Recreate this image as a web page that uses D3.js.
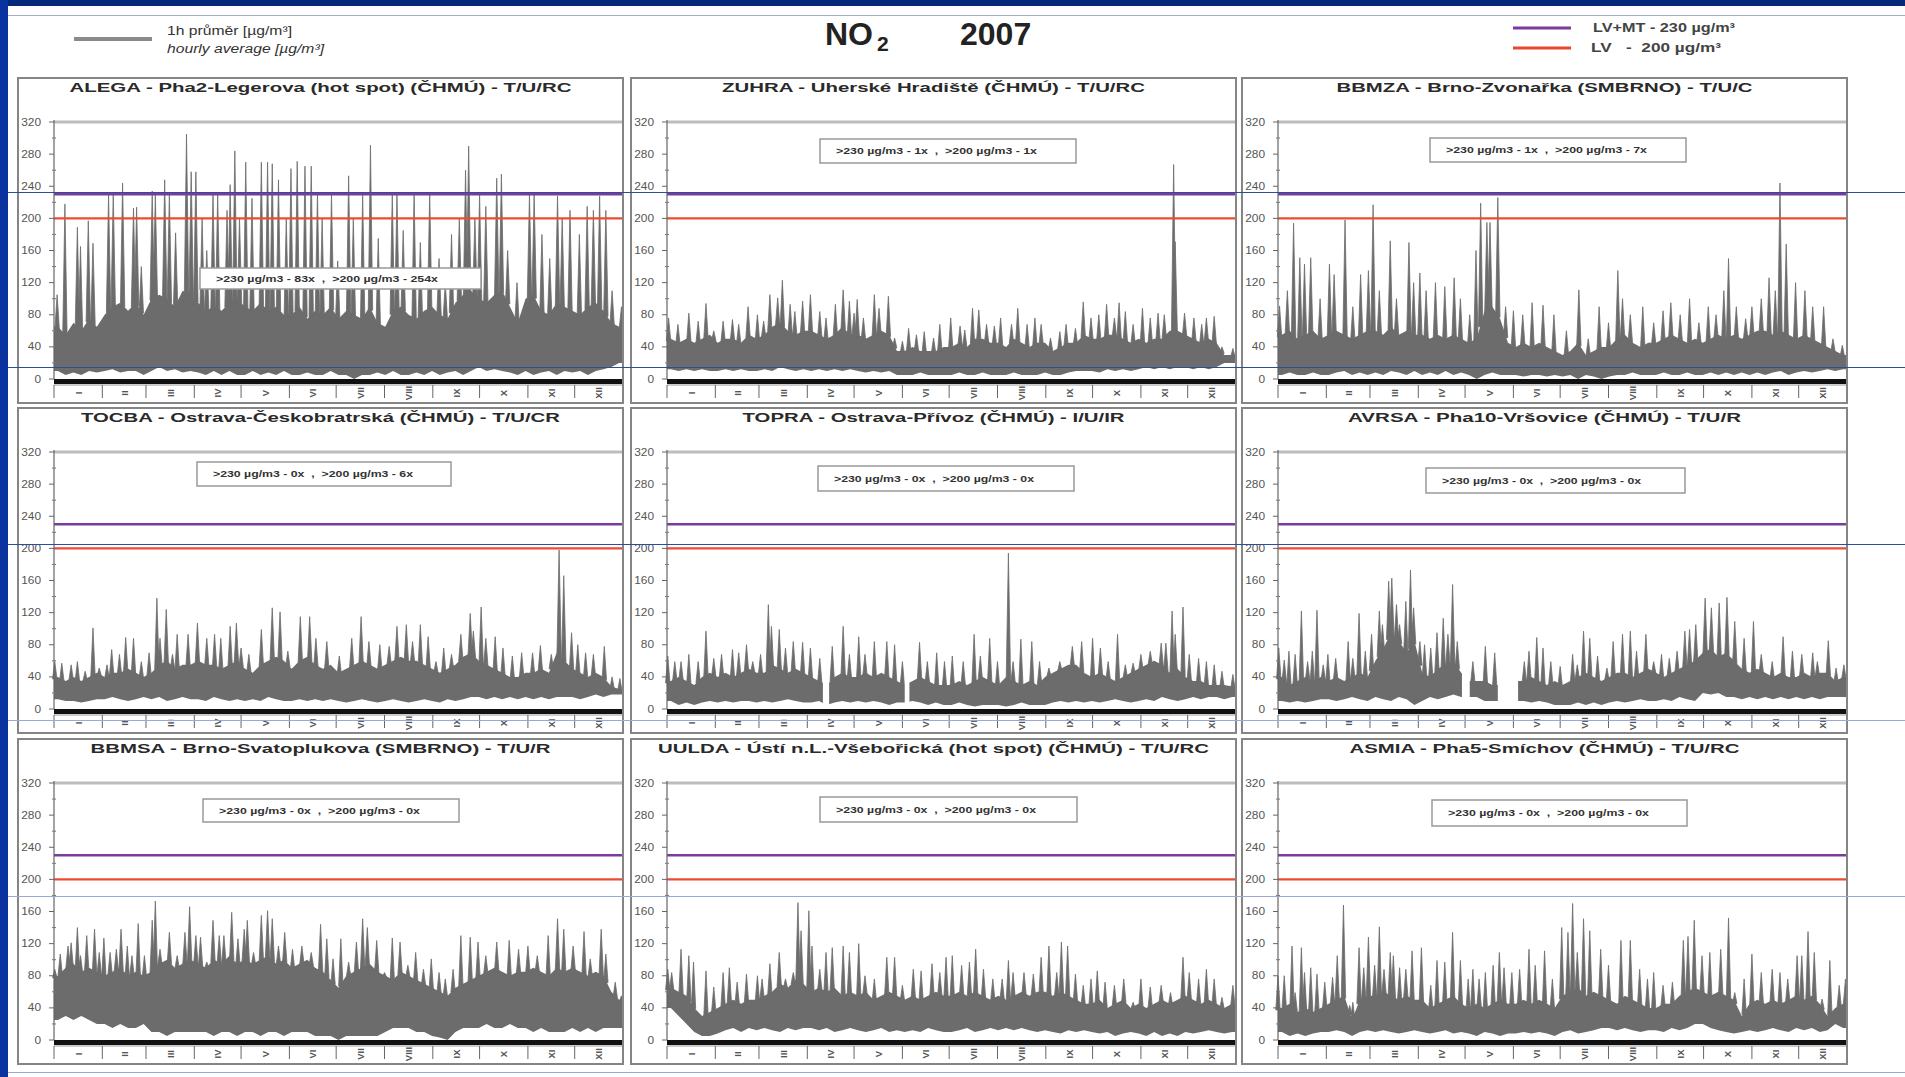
<!DOCTYPE html>
<html><head><meta charset="utf-8">
<script src="https://cdn.jsdelivr.net/npm/d3@7"></script>
<style>body{margin:0;background:#fff}svg{display:block}</style>
</head><body>
<svg id="c" width="1905" height="1077"></svg>
<script>
// ---------------- DATA ----------------
const monthStarts = [0,31,59,90,120,151,181,212,243,273,304,334,365];
const monthLabels = ["I","II","III","IV","V","VI","VII","VIII","IX","X","XI","XII"];
const yTicks = [0,40,80,120,160,200,240,280,320];
const limitLV = 200, limitLVMT = 230;

const stationTitles = [
  "ALEGA - Pha2-Legerova (hot spot) (ČHMÚ) - T/U/RC",
  "ZUHRA - Uherské Hradiště (ČHMÚ) - T/U/RC",
  "BBMZA - Brno-Zvonařka (SMBRNO) - T/U/C",
  "TOCBA - Ostrava-Českobratrská (ČHMÚ) - T/U/CR",
  "TOPRA - Ostrava-Přívoz (ČHMÚ) - I/U/IR",
  "AVRSA - Pha10-Vršovice (ČHMÚ) - T/U/R",
  "BBMSA - Brno-Svatoplukova (SMBRNO) - T/U/R",
  "UULDA - Ústí n.L.-Všebořická (hot spot) (ČHMÚ) - T/U/RC",
  "ASMIA - Pha5-Smíchov (ČHMÚ) - T/U/RC"
];
const over230 = [83,1,1,0,0,0,0,0,0];
const over200 = [254,1,7,6,0,0,0,0,0];

// Peaks: day of year and hourly value (µg/m3)
const alegaPeakDay = [2,7,15,17,22,25,35,38,44,51,53,56,63,65,71,74,78,85,88,91,95,98,102,105,111,113,116,119,123,127,133,137,140,144,149,152,156,161,165,169,172,178,182,189,192,198,203,208,217,220,224,231,235,241,247,251,255,260,264,266,270,273,277,284,287,291,297,305,308,313,318,323,326,331,337,342,346,350,354,358,364];
const alegaPeakVal = [105,218,189,165,197,169,230,231,244,213,214,140,234,230,248,230,182,305,258,258,200,160,231,231,210,242,284,200,270,225,270,270,268,248,200,262,271,265,265,232,200,231,147,253,200,230,291,175,232,230,185,232,170,232,150,120,180,200,260,290,200,230,215,250,255,160,120,230,230,180,150,228,200,210,180,215,210,228,210,110,90];
const zuhraPeakDay = [1,7,14,20,25,30,36,42,46,52,58,62,66,71,74,79,82,87,92,98,102,108,113,117,120,122,126,133,136,142,146,151,155,160,165,171,175,182,188,191,196,200,205,210,214,221,225,231,236,240,246,252,256,262,267,272,277,282,287,290,294,299,305,310,315,319,325,326,332,338,343,346,351,356,363];
const zuhraPeakVal = [76,68,82,72,94,60,72,74,68,90,80,72,105,101,123,93,84,97,105,84,76,93,111,97,82,99,76,105,88,103,51,47,63,55,59,51,68,76,66,61,88,86,68,66,76,68,88,68,76,68,51,59,68,63,96,76,80,93,76,95,84,68,88,76,82,80,267,171,82,76,68,76,78,40,38];
const bbmzaPeakDay = [1,6,10,14,17,21,27,33,36,43,48,53,58,61,65,72,76,84,87,91,95,101,107,113,117,123,127,130,134,136,141,146,151,157,163,170,177,185,193,199,206,212,218,221,226,234,241,247,252,258,264,270,276,281,286,289,294,300,304,310,315,319,322,326,332,338,343,350,356,362];
const bbmzaPeakVal = [91,110,194,151,143,151,100,143,130,198,90,130,135,217,110,172,100,170,120,132,110,120,115,126,100,80,160,219,195,195,226,90,85,80,95,92,80,60,111,50,90,70,135,100,80,90,70,85,95,80,100,70,90,80,110,150,90,75,90,100,126,110,244,168,120,110,90,90,50,42];
const tocbaPeakDay = [0.5,5,11,15,20,25,29,34,37,42,46,51,56,61,66,68,72,76,79,86,92,98,103,107,113,117,120,125,133,140,145,150,158,164,168,175,183,191,197,202,209,215,220,226,230,235,240,245,250,255,261,267,269,274,277,283,288,294,300,307,312,319,324,327,332,336,341,346,353,358,363];
const tocbaPeakVal = [59,57,55,59,47,101,51,55,74,68,89,88,59,70,138,88,124,68,93,93,107,88,93,88,103,107,76,68,99,126,121,72,115,115,88,84,66,88,115,84,80,78,103,105,84,105,90,59,76,68,93,119,97,127,88,90,76,66,70,70,79,68,198,166,95,80,70,68,78,40,38];
const topraPeakDay = [0.5,5,9,14,20,25,30,35,42,46,51,55,60,65,67,72,76,81,87,92,98,106,113,117,123,127,133,141,146,151,162,167,173,178,183,190,197,201,207,212,219,222,227,234,239,245,252,260,266,273,278,283,289,294,299,304,310,317,320,324,326,331,335,341,346,351,356,363];
const topraPeakVal = [66,59,59,68,59,97,63,68,74,70,80,59,68,130,103,99,76,84,83,76,63,78,103,68,90,68,84,84,80,59,83,59,70,59,66,59,93,66,88,59,194,59,87,84,59,51,59,78,84,88,76,59,93,55,57,68,72,82,82,122,93,127,68,63,59,55,47,43];
const avrsaPeakDay = [0.5,4,7,11,15,19,22,25,29,32,37,45,48,52,56,60,65,67,71,73,76,78,82,85,87,91,94,98,102,106,109,112,115,125,133,139,158,161,166,170,175,181,189,192,196,200,205,211,215,221,226,230,236,241,246,251,256,261,264,268,274,278,283,288,293,299,305,310,317,324,330,336,343,346,353,358,363];
const avrsaPeakVal = [76,61,72,68,122,59,72,123,55,68,63,84,63,119,72,93,122,105,159,163,130,105,134,173,126,84,80,76,95,113,93,155,84,59,78,70,59,72,89,76,59,53,68,55,97,88,66,51,84,93,97,72,93,59,68,63,72,97,99,105,138,126,132,139,109,88,109,68,59,90,72,68,70,59,85,51,55];
const bbmsaPeakDay = [0.5,4,9,11,15,17,21,26,29,32,36,40,43,47,50,54,58,63,65,68,74,79,84,87,91,94,98,102,106,109,114,118,122,124,128,133,137,140,144,148,153,159,165,171,175,179,184,189,194,198,201,207,212,217,222,227,232,237,242,247,251,256,261,267,272,277,284,292,298,304,310,317,323,327,333,340,344,351,354,360,364];
const bbmsaPeakVal = [88,107,117,121,140,105,130,138,109,127,109,113,138,117,105,145,105,149,173,113,134,105,134,166,130,128,97,149,130,130,159,126,138,149,109,155,161,151,117,134,113,117,109,144,126,101,126,97,122,151,140,124,84,127,122,93,109,88,101,84,76,88,130,128,122,105,122,124,113,117,105,130,151,138,117,135,101,138,107,72,55];
const uuldaPeakDay = [0.5,3,9,14,17,25,30,36,40,45,51,58,61,66,72,76,81,84,86,91,93,98,102,106,113,117,123,127,133,141,146,151,158,163,170,175,179,183,189,194,198,203,209,215,219,222,229,235,240,245,250,253,257,262,267,272,276,281,287,293,299,304,310,317,323,331,335,341,346,351,356,363];
const uuldaPeakVal = [88,84,113,105,97,86,66,84,90,72,82,80,76,95,109,76,84,171,136,161,117,88,109,115,117,109,120,80,76,103,103,68,88,86,95,84,103,105,93,97,113,88,76,76,99,84,84,82,103,117,84,122,117,82,68,76,86,72,68,76,47,76,66,68,59,103,84,76,88,76,53,68];
const asmiaPeakDay = [0,4,9,11,15,17,21,25,30,35,38,42,46,48,52,55,58,62,65,68,72,74,78,82,86,92,98,102,107,112,117,122,125,129,133,138,142,145,150,155,161,165,171,176,182,186,189,192,196,200,207,212,220,226,232,237,241,247,253,260,263,267,272,277,284,289,293,299,304,310,317,322,327,333,336,340,344,349,354,360,364];
const asmiaPeakVal = [80,80,117,59,115,84,90,82,72,78,105,168,43,47,115,90,128,93,141,88,109,105,90,88,111,115,68,99,97,134,99,76,88,76,84,93,109,90,84,88,113,93,111,76,140,134,170,109,151,136,113,93,124,124,88,76,84,68,72,124,129,149,105,109,113,152,59,76,107,84,88,84,76,105,105,135,109,51,99,68,76];

// Dense band of hourly values per 5-day bin (73 bins): top and bottom
const alegaMid = [65,55,70,60,75,65, 80,90,95,85,95,80, 100,105,100,90,110,105, 95,85,90,85,95,100, 90,85,95,85,90,80, 80,90,75,85,80,90, 75,85,80,75,90,70, 65,85,90,80,75,85, 90,80,75,95,105,110, 100,95,105,110,90,70, 100,105,85,80,95,90, 85,80,90,95,85,70,65];
const alegaLo = [10,5,8,5,10,8, 10,12,8,10,10,5, 10,15,10,12,8,10, 8,5,10,5,10,5, 5,10,5,8,5,10, 5,5,8,5,5,10, 5,5,0,5,5,8, 5,10,5,5,8,5, 10,5,8,10,5,10, 15,10,12,10,8,5, 10,5,8,10,5,10, 8,10,5,10,12,15,20];
const zuhraMid = [50,45,50,45,50,55, 45,50,50,45,55,50, 55,65,70,60,55,60, 60,55,50,55,65,55, 55,50,55,60,55,35, 35,40,35,35,35,40, 40,45,40,50,50,45, 45,40,50,45,40,45, 45,35,40,45,45,55, 50,50,55,55,50,45, 50,45,50,50,60,60, 55,50,45,50,45,30,30];
const zuhraLo = [12,10,12,10,12,10, 10,12,10,12,10,10, 12,10,15,12,10,12, 10,12,10,12,10,12, 10,8,10,8,10,5, 5,5,8,5,5,5, 5,8,5,5,8,5, 5,5,8,5,5,5, 8,5,5,8,10,10, 10,8,12,10,12,10, 12,15,12,15,12,15, 15,12,15,12,15,20,20];
const bbmzaMid = [55,60,50,55,60,50, 55,60,55,50,55,60, 60,55,65,55,60,55, 55,50,55,50,55,50, 45,50,85,90,75,45, 40,45,40,45,40,35, 30,35,45,30,35,40, 40,50,55,45,40,45, 45,50,55,50,45,50, 45,50,55,50,55,50, 55,60,60,55,60,55, 50,55,50,45,40,35,30];
const bbmzaLo = [5,8,5,5,8,5, 5,8,10,5,8,5, 8,5,10,8,5,10, 5,8,5,10,5,8, 5,0,5,8,5,5, 5,3,5,5,3,5, 3,5,0,5,3,0, 3,5,5,8,5,5, 5,8,5,5,8,5, 5,8,5,8,5,8, 5,8,5,8,10,5, 8,10,8,10,12,10,12];
const tocbaMid = [40,35,40,35,40,45, 40,45,45,50,45,40, 45,55,60,50,55,55, 60,55,55,50,55,60, 50,45,55,60,65,60, 50,60,65,55,50,55, 45,50,55,60,55,50, 55,60,65,60,60,55, 50,45,50,55,65,70, 60,55,50,45,40,40, 45,45,50,45,70,60, 50,45,40,45,40,28,25];
const tocbaLo = [12,10,10,8,10,12, 12,15,12,10,12,15, 12,15,10,12,15,12, 12,10,15,12,10,12, 10,12,10,15,12,10, 10,12,10,12,10,12, 10,8,10,12,10,8, 10,12,10,8,10,12, 10,8,12,10,12,15, 15,12,15,12,15,12, 15,12,15,12,15,15, 15,12,15,18,15,18,18];
const topraMid = [35,40,35,30,40,45, 40,45,40,45,50,45, 45,55,50,45,50,45, 40,35,30,40,45,40, 40,45,40,45,40,35, 30,35,40,35,30,30, 30,35,30,35,40,35, 30,40,35,30,35,30, 40,45,50,55,55,45, 40,45,40,35,40,45, 50,55,60,55,45,50, 40,35,35,30,30,30,28];
const topraLo = [10,5,8,5,8,10, 8,10,8,10,10,8, 10,8,10,12,10,8, 8,10,5,8,10,8, 10,8,10,8,5,8, 8,10,8,5,8,5, 5,8,5,3,5,5, 5,3,5,8,5,5, 5,8,10,8,10,8, 10,8,10,12,10,8, 10,12,10,15,12,10, 12,15,12,15,15,12,15];
const avrsaMid = [40,30,35,40,35,40, 35,40,35,40,45,40, 60,75,95,85,70,85, 45,40,50,55,60,45, 35,35,35,30,30,35, 35,35,40,35,30,35, 30,35,40,45,40,35, 40,45,45,40,45,50, 45,40,45,50,55,60, 70,75,65,70,60,50, 45,50,45,40,45,40, 40,45,40,45,45,35,40];
const avrsaLo = [10,8,10,8,10,12, 12,10,12,15,12,10, 15,12,10,15,12,5, 10,15,12,15,18,15, 15,15,10,10,10,10, 10,10,8,10,8,5, 5,5,8,5,8,5, 8,10,8,10,12,10, 10,12,10,15,12,10, 20,18,20,15,15,12, 15,12,15,12,15,12, 15,12,15,12,15,15,15];
const bbmsaMid = [80,90,95,85,90,85, 80,85,90,80,85,80, 85,95,100,90,95,100, 95,90,100,95,105,95, 100,95,100,105,95,100, 90,95,100,90,85,75, 65,80,85,90,95,85, 80,75,85,80,75,70, 65,60,55,65,70,75, 80,85,90,85,80,85, 85,90,85,80,90,85, 90,85,80,85,80,60,50];
const bbmsaLo = [25,30,25,30,25,20, 20,15,20,15,15,20, 10,10,5,10,10,10, 10,10,5,10,10,5, 10,10,5,10,10,5, 10,10,10,5,5,5, 0,5,5,5,5,5, 10,15,15,15,10,10, 5,3,0,10,15,15, 15,20,15,15,20,15, 15,10,15,10,10,10, 15,10,15,10,15,15,15];
const uuldaMid = [65,60,55,40,30,35, 40,45,50,45,50,50, 55,60,70,65,75,70, 60,65,60,65,55,60, 55,60,50,55,60,55, 50,55,50,55,60,55, 55,60,55,60,55,50, 55,50,55,60,55,60, 60,55,60,55,50,45, 45,50,40,45,50,40, 45,40,45,50,45,50, 55,50,45,50,45,40,45];
const uuldaLo = [40,30,20,10,5,5, 8,12,15,10,15,12, 15,12,10,15,12,15, 15,12,15,10,12,15, 12,10,12,15,10,12, 10,12,10,15,12,10, 10,12,15,10,12,15, 12,15,12,15,12,10, 12,10,8,12,10,12, 10,8,10,5,8,10, 8,5,10,5,8,5, 10,8,10,12,10,8,10];
const asmiaMid = [40,45,35,40,35,40, 45,50,55,25,50,55, 55,60,55,50,55,50, 50,40,45,50,55,45, 40,45,40,45,50,45, 45,50,45,50,45,40, 55,60,65,55,60,55, 50,45,55,50,45,40, 40,45,45,55,60,65, 60,55,60,55,50,30, 45,50,45,50,45,50, 55,50,55,45,30,40,45];
const asmiaLo = [10,5,8,5,8,10, 10,12,10,5,10,12, 10,12,10,8,10,12, 10,8,10,12,8,10, 8,5,10,8,5,8, 8,10,8,10,8,5, 10,12,8,10,12,15, 15,12,15,12,10,12, 12,10,15,12,15,20, 20,15,12,10,8,10, 12,10,12,15,12,10, 15,12,15,10,12,20,15];

// Missing-data periods [fromDay, toDay]
const topraGaps = [[100,104],[152.5,155.5]];
const avrsaGaps = [[118,123],[141,154]];

const peakDays = [alegaPeakDay,zuhraPeakDay,bbmzaPeakDay,tocbaPeakDay,topraPeakDay,avrsaPeakDay,bbmsaPeakDay,uuldaPeakDay,asmiaPeakDay];
const peakVals = [alegaPeakVal,zuhraPeakVal,bbmzaPeakVal,tocbaPeakVal,topraPeakVal,avrsaPeakVal,bbmsaPeakVal,uuldaPeakVal,asmiaPeakVal];
const bandTop  = [alegaMid,zuhraMid,bbmzaMid,tocbaMid,topraMid,avrsaMid,bbmsaMid,uuldaMid,asmiaMid];
const bandBot  = [alegaLo,zuhraLo,bbmzaLo,tocbaLo,topraLo,avrsaLo,bbmsaLo,uuldaLo,asmiaLo];
const gapsAll  = [[],[],[],[],topraGaps,avrsaGaps,[],[],[]];

// ---------------- LAYOUT ----------------
const FONT = "'Liberation Sans', Arial, sans-serif";
const GRAY = "#6c6c6c";
const colX = [18, 631, 1242], rowY = [78, 408, 739];
const PW = 605, PH = 325;
const titleW = [502,423,416,479,382,393,460,551,390];
const boxes = [[182,190,281,21],[189,61,256,24],[188,60,256,24],[179,54,254,24],[187,58,256,25],[184,60,259,25],[185,60,256,23],[189,58,257,25],[190,61,255,26]];
const boxTextW = [222,201,201,200,200,199,201,200,201];

const svg = d3.select("#c");
svg.append("rect").attr("width",1905).attr("height",1077).attr("fill","#fff");
svg.append("rect").attr("x",0).attr("y",0).attr("width",1905).attr("height",6).attr("fill","#022a78");
svg.append("rect").attr("x",0).attr("y",0).attr("width",8).attr("height",1077).attr("fill","#0a33a0");

// header title
svg.append("text").attr("x",825).attr("y",45).attr("font-family",FONT).attr("font-weight","bold").attr("font-size",32).attr("fill","#222").text("NO");
svg.append("text").attr("x",877).attr("y",51).attr("font-family",FONT).attr("font-weight","bold").attr("font-size",21).attr("fill","#222").text("2");
svg.append("text").attr("x",960).attr("y",45).attr("font-family",FONT).attr("font-weight","bold").attr("font-size",32).attr("fill","#222").text("2007");

// legend left
svg.append("line").attr("x1",74).attr("x2",152).attr("y1",39).attr("y2",39).attr("stroke","#8a8a8a").attr("stroke-width",4);
svg.append("text").attr("x",167).attr("y",35).attr("font-family",FONT).attr("font-size",12).attr("fill","#333")
  .attr("textLength",125).attr("lengthAdjust","spacingAndGlyphs").text("1h průměr [µg/m³]");
svg.append("text").attr("x",167).attr("y",53).attr("font-family",FONT).attr("font-size",12).attr("font-style","italic").attr("fill","#333")
  .attr("textLength",157).attr("lengthAdjust","spacingAndGlyphs").text("hourly average [µg/m³]");

// legend right
svg.append("line").attr("x1",1513).attr("x2",1571).attr("y1",28).attr("y2",28).attr("stroke","#7a3a9e").attr("stroke-width",3);
svg.append("line").attr("x1",1513).attr("x2",1571).attr("y1",48).attr("y2",48).attr("stroke","#e8462e").attr("stroke-width",3);
svg.append("text").attr("x",1593).attr("y",32).attr("font-family",FONT).attr("font-size",12).attr("font-weight","bold").attr("fill","#444")
  .style("white-space","pre").attr("textLength",142).attr("lengthAdjust","spacingAndGlyphs").text(`LV+MT - ${limitLVMT} µg/m³`);
svg.append("text").attr("x",1591).attr("y",52).attr("font-family",FONT).attr("font-size",12).attr("font-weight","bold").attr("fill","#444")
  .style("white-space","pre").attr("textLength",130).attr("lengthAdjust","spacingAndGlyphs").text(`LV   -  ${limitLV} µg/m³`);

// ---------------- PANELS ----------------
const x = d3.scaleLinear().domain([0,365]).range([36,PW]);
const y = d3.scaleLinear().domain([0,320]).range([301,44]);
const area = d3.area().x(d=>x(d.t)).y0(d=>y(d.lo)).y1(d=>y(d.mid));

for (let p=0; p<9; p++) {
  const g = svg.append("g").attr("transform",`translate(${colX[p%3]},${rowY[Math.floor(p/3)]})`);
  g.append("rect").attr("x",0).attr("y",0).attr("width",PW).attr("height",PH).attr("fill","#fff");

  g.append("text").attr("x",PW/2).attr("y",14).attr("text-anchor","middle").attr("font-family",FONT)
    .attr("font-weight","bold").attr("font-size",13).attr("fill","#2a2a2a")
    .attr("textLength",titleW[p]).attr("lengthAdjust","spacingAndGlyphs").text(stationTitles[p]);

  g.append("line").attr("x1",x(0)).attr("x2",PW).attr("y1",y(320)).attr("y2",y(320)).attr("stroke","#bdbdbd").attr("stroke-width",3);

  // band
  const mid = bandTop[p], lo = bandBot[p];
  const pts = [{t:0,lo:lo[0],mid:mid[0]}, ...mid.map((v,i)=>({t:Math.min(5*i+2.5,364), lo:lo[i], mid:v})), {t:365,lo:lo[lo.length-1],mid:mid[mid.length-1]}];
  const dataG = g.append("g");
  dataG.append("path").attr("d",area(pts)).attr("fill",GRAY);
  const topAt = d3.scaleLinear().domain(pts.map(d=>d.t)).range(pts.map(d=>d.mid)).clamp(true);

  // peaks as needles
  const pk = peakDays[p].map((d,i)=>({d, v:peakVals[p][i]}));
  dataG.append("g").selectAll("path").data(pk).join("path")
    .attr("d", k=>{ const cx=x(k.d), b=y(topAt(k.d))+2; return `M${cx-2.2},${b}L${cx},${y(k.v)}L${cx+2.2},${b}Z`; })
    .attr("fill",GRAY).attr("stroke",GRAY).attr("stroke-width",0.8).attr("stroke-linejoin","round");

  // missing data
  dataG.append("g").selectAll("rect").data(gapsAll[p]).join("rect")
    .attr("x",d=>x(d[0])).attr("width",d=>x(d[1])-x(d[0])).attr("y",y(320)+3).attr("height",y(0)-y(320)-3).attr("fill","#fff");

  // limit lines
  g.append("line").attr("x1",x(0)).attr("x2",PW).attr("y1",y(limitLVMT)).attr("y2",y(limitLVMT)).attr("stroke","#7a3a9e").attr("stroke-width",2.5);
  g.append("line").attr("x1",x(0)).attr("x2",PW).attr("y1",y(limitLV)).attr("y2",y(limitLV)).attr("stroke","#ef4a33").attr("stroke-width",2.2);

  // zero bar
  g.append("rect").attr("x",x(0)).attr("y",y(0)).attr("width",PW-x(0)).attr("height",5).attr("fill","#111");
  g.append("line").attr("x1",x(0)).attr("x2",PW).attr("y1",y(0)+6).attr("y2",y(0)+6).attr("stroke","#999").attr("stroke-width",1);

  // y axis
  g.append("line").attr("x1",x(0)).attr("x2",x(0)).attr("y1",y(320)-2).attr("y2",y(0)).attr("stroke","#666").attr("stroke-width",1.2);
  g.append("g").selectAll("line").data(d3.range(20,320,40)).join("line")
    .attr("x1",x(0)-2).attr("x2",x(0)+2).attr("y1",d=>y(d)).attr("y2",d=>y(d)).attr("stroke","#777").attr("stroke-width",1);
  g.append("g").selectAll("line").data(yTicks).join("line")
    .attr("x1",x(0)-5).attr("x2",x(0)).attr("y1",d=>y(d)).attr("y2",d=>y(d)).attr("stroke","#666").attr("stroke-width",1);
  g.append("g").selectAll("text").data(yTicks).join("text")
    .attr("x",23).attr("y",d=>y(d)).attr("dy","0.35em").attr("text-anchor","end")
    .attr("font-family",FONT).attr("font-size",10).attr("fill","#555")
    .attr("textLength",d=>String(d).length*6.6).attr("lengthAdjust","spacingAndGlyphs").text(d=>d);

  // month axis
  g.append("g").selectAll("line").data(monthStarts).join("line")
    .attr("x1",d=>x(d)).attr("x2",d=>x(d)).attr("y1",y(0)+6).attr("y2",y(0)+19).attr("stroke","#666").attr("stroke-width",1);
  g.append("g").selectAll("text").data(monthLabels).join("text")
    .attr("transform",(d,i)=>`translate(${x((monthStarts[i]+monthStarts[i+1])/2)+3.5},${y(0)+14}) rotate(-90)`)
    .attr("text-anchor","middle").attr("font-family",FONT).attr("font-size",9.5).attr("font-weight","bold").attr("fill","#555").text(d=>d);

  // annotation box
  const bx = boxes[p];
  g.append("rect").attr("x",bx[0]).attr("y",bx[1]).attr("width",bx[2]).attr("height",bx[3])
    .attr("fill","#fff").attr("stroke","#999").attr("stroke-width",1.5);
  g.append("text").attr("x",bx[0]+16).attr("y",bx[1]+bx[3]/2).attr("dy","0.35em")
    .attr("font-family",FONT).attr("font-weight","bold").attr("font-size",9.5).attr("fill","#333")
    .style("white-space","pre").attr("textLength",boxTextW[p]).attr("lengthAdjust","spacingAndGlyphs")
    .text(`>230 µg/m3 - ${over230[p]}x  ,  >200 µg/m3 - ${over200[p]}x`);

  g.append("rect").attr("x",0).attr("y",0).attr("width",PW).attr("height",PH).attr("fill","none").attr("stroke","#858585").attr("stroke-width",2);
}

// slide guide lines (on top)
const guides = [[15,"#a4acc8"],[192,"#2d4c9c"],[367,"#2d4c9c"],[544,"#2d4c9c"],[720,"#9aa8d8"],[896,"#9aa8d8"],[1072,"#9aa8d8"]];
svg.append("g").selectAll("line").data(guides).join("line")
  .attr("x1",8).attr("x2",1905).attr("y1",d=>d[0]+0.5).attr("y2",d=>d[0]+0.5).attr("stroke",d=>d[1]).attr("stroke-width",1);
</script>
</body></html>
